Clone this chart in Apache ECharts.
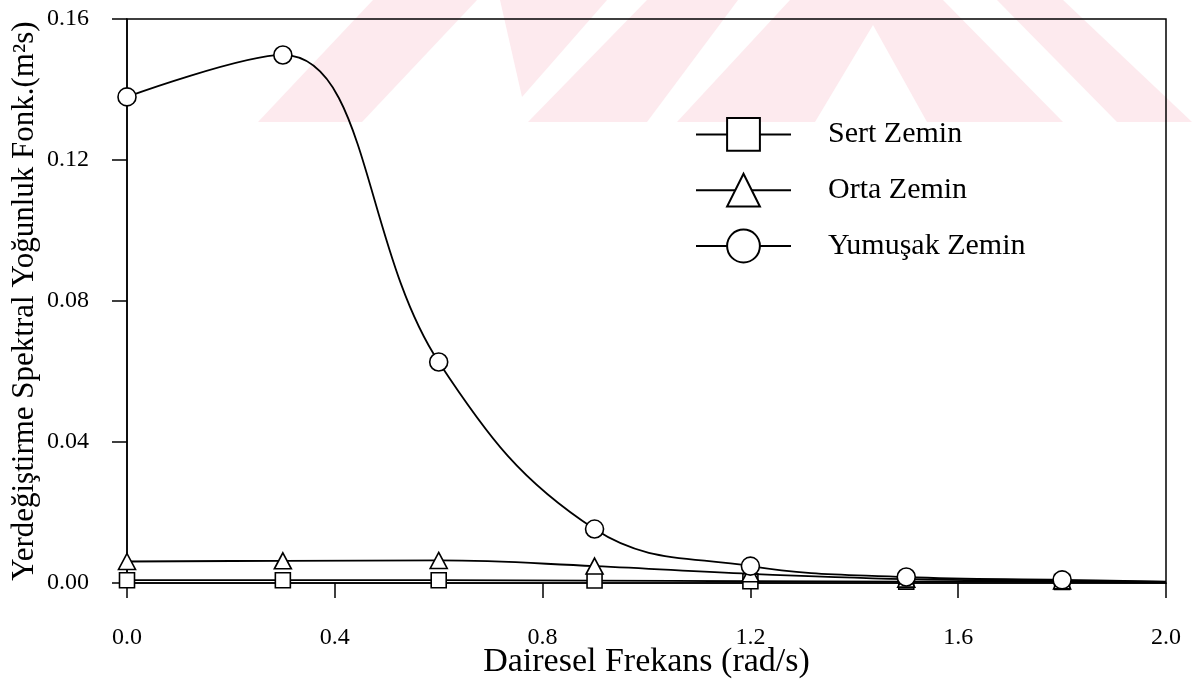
<!DOCTYPE html>
<html>
<head>
<meta charset="utf-8">
<script src="https://cdn.jsdelivr.net/npm/echarts@6/dist/echarts.min.js"></script>
<style>
html,body{margin:0;padding:0;background:#fff;}
#chart{width:1192px;height:684px;}
</style>
</head>
<body>
<div id="chart"></div>
<script>
// ---- data ----
const xValues   = [0.0, 0.3, 0.6, 0.9, 1.2, 1.5, 1.8, 2.0];
const sertZemin = [0.0008, 0.0008, 0.0008, 0.0007, 0.0005, 0.0004, 0.0003, 0.0001];
const ortaZemin = [0.0061, 0.0063, 0.0064, 0.0048, 0.0026, 0.0011, 0.0006, 0.0003];
const yumusakZemin = [0.1379, 0.1498, 0.0627, 0.0153, 0.0048, 0.0017, 0.0009, 0.0004];
const seriesNames = ['Sert Zemin', 'Orta Zemin', 'Yumuşak Zemin'];
const seriesSymbols = ['rect', 'triangle', 'circle'];
const xTicks = { min: 0, max: 2.0, interval: 0.4 };
const yTicks = { min: 0, max: 0.16, interval: 0.04 };
const xName = 'Dairesel Frekans (rad/s)';
const yName = 'Yerdeğiştirme Spektral Yoğunluk Fonk.(m²s)';
const markedCount = 7; // markers drawn at the first 7 x values

// ---- build ----
const FONT = '"Liberation Serif", "DejaVu Serif", serif';
function pts(vals) {
  return xValues.map((x, i) => i < markedCount ? [x, vals[i]] : { value: [x, vals[i]], symbol: 'none' });
}
const allVals = [sertZemin, ortaZemin, yumusakZemin];
const symSizes = [[15, 15], [17, 16], 18];

const pink = '#fdeaee';
function poly(points) {
  return { type: 'polygon', z: -10, silent: true, shape: { points: points }, style: { fill: pink } };
}

const chart = echarts.init(document.getElementById('chart'), null, { renderer: 'canvas' });
chart.setOption({
  backgroundColor: '#fff',
  animation: false,
  graphic: [
    poly([[258,122],[362,122],[477,0],[373,0]]),
    poly([[500,0],[607,0],[522,97]]),
    poly([[528,122],[647,122],[738,0],[647,0]]),
    poly([[677,122],[815,122],[873,25],[927,122],[1063,122],[943,0],[790,0]]),
    poly([[997,0],[1063,0],[1192,122],[1117,122]])
  ],
  grid: { left: 127, right: 26, top: 19, bottom: 101, outerBoundsMode: 'none', containLabel: false,
          show: true, borderColor: '#000', borderWidth: 1.5, backgroundColor: 'transparent' },
  legend: {
    left: 695, top: 117, orient: 'vertical', padding: 0,
    itemWidth: 95, itemHeight: 41, itemGap: 21,
    textStyle: { fontFamily: FONT, fontSize: 30, color: '#000', padding: [0, 0, 0, 32] },
    data: seriesNames
  },
  xAxis: {
    type: 'value', min: xTicks.min, max: xTicks.max, interval: xTicks.interval,
    name: xName, nameLocation: 'middle', nameGap: 62, nameMoveOverlap: false,
    nameTextStyle: { fontFamily: FONT, fontSize: 34, color: '#000' },
    axisLine: { show: true, lineStyle: { color: '#000', width: 1.5 } },
    axisTick: { show: true, inside: false, length: 15, lineStyle: { color: '#000', width: 1.5 } },
    axisLabel: { fontFamily: FONT, fontSize: 24, color: '#000', margin: 43, formatter: v => v.toFixed(1) },
    splitLine: { show: false }
  },
  yAxis: {
    type: 'value', min: yTicks.min, max: yTicks.max, interval: yTicks.interval,
    name: yName, nameLocation: 'middle', nameGap: 87, nameRotate: 90, nameMoveOverlap: false,
    nameTextStyle: { fontFamily: FONT, fontSize: 31, color: '#000' },
    axisLine: { show: true, lineStyle: { color: '#000', width: 1.5 } },
    axisTick: { show: true, inside: false, length: 15, lineStyle: { color: '#000', width: 1.5 } },
    axisLabel: { fontFamily: FONT, fontSize: 24, color: '#000', margin: 38, formatter: v => v.toFixed(2) },
    splitLine: { show: false }
  },
  series: seriesNames.map((name, i) => ({
    name: name,
    type: 'line',
    smooth: 0.4,
    data: pts(allVals[i]),
    symbol: seriesSymbols[i],
    symbolSize: symSizes[i],
    showAllSymbol: true,
    lineStyle: { color: '#000', width: 1.8 },
    itemStyle: { color: '#fff', borderColor: '#000', borderWidth: 1.6 },
    z: 3 + i
  }))
});
</script>
</body>
</html>
